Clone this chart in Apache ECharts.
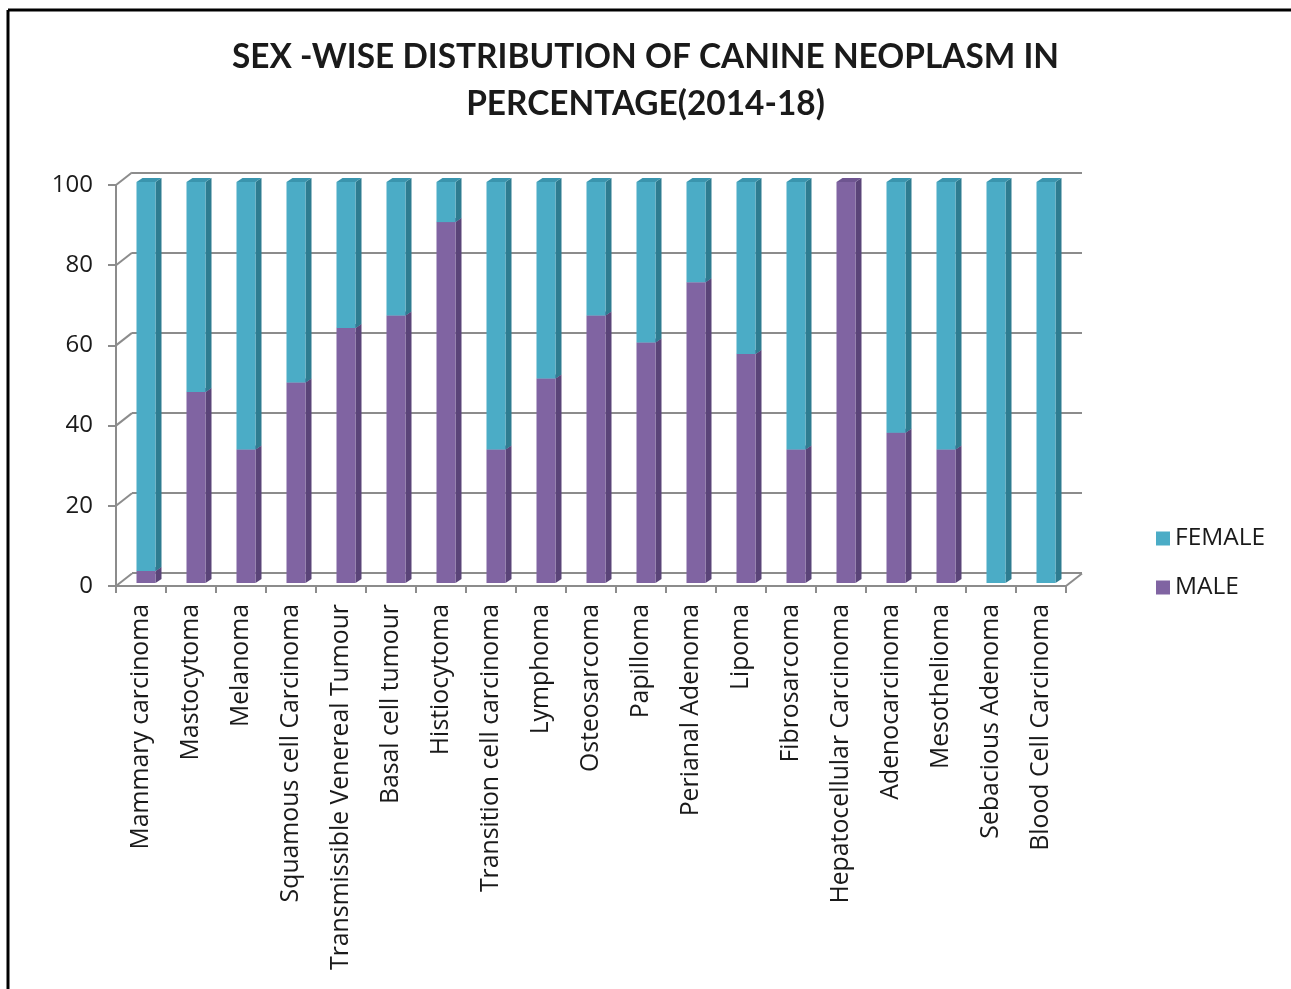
<!DOCTYPE html>
<html>
<head>
<meta charset="utf-8">
<script src="https://cdn.jsdelivr.net/npm/echarts@6/dist/echarts.min.js"></script>
<style>
html,body{margin:0;padding:0;background:#fff;}
#chart{width:1291px;height:989px;}
</style>
</head>
<body>
<div id="chart"></div>
<script>
var categories = ['Mammary carcinoma','Mastocytoma','Melanoma','Squamous cell Carcinoma','Transmissible Venereal Tumour','Basal cell tumour','Histiocytoma','Transition cell carcinoma','Lymphoma','Osteosarcoma','Papilloma','Perianal Adenoma','Lipoma','Fibrosarcoma','Hepatocellular Carcinoma','Adenocarcinoma','Mesothelioma','Sebacious Adenoma','Blood Cell Carcinoma'];
var maleValues   = [3, 47.6, 33.3, 50, 63.6, 66.7, 90, 33.3, 51, 66.7, 60, 75, 57.1, 33.3, 100, 37.5, 33.3, 0, 0];
var femaleValues = [97, 52.4, 66.7, 50, 36.4, 33.3, 10, 66.7, 49, 33.3, 40, 25, 42.9, 66.7, 0, 62.5, 66.7, 100, 100];
var yTicks = [0, 20, 40, 60, 80, 100];

var FONT = '"Open Sans", Lato, sans-serif';
var TFONT = 'Lato, "Open Sans", sans-serif';
var DEPTH_X = 16, DEPTH_Y = 12.5;
var BAR_W = 19, BAR_DX = 5, BAR_DY = 3, SIDE_X = 6, SIDE_Y = 4;

function makeBarRenderer(front, side, top) {
  return function (params, api) {
    var idx = api.value(0), start = api.value(1), end = api.value(2);
    if (end - start <= 0) return null;
    var p0 = api.coord([idx, start]);
    var p1 = api.coord([idx, end]);
    var cx = p0[0] + BAR_DX;
    var yb = p0[1] - BAR_DY, yt = p1[1] - BAR_DY;
    var xl = cx - BAR_W / 2, xr = cx + BAR_W / 2;
    return {
      type: 'group',
      children: [
        {type: 'polygon', shape: {points: [[xr, yb], [xr + SIDE_X, yb - SIDE_Y], [xr + SIDE_X, yt - SIDE_Y], [xr, yt]]}, style: {fill: side}},
        {type: 'polygon', shape: {points: [[xl, yt], [xl + SIDE_X, yt - SIDE_Y], [xr + SIDE_X, yt - SIDE_Y], [xr, yt]]}, style: {fill: top}},
        {type: 'rect', shape: {x: xl, y: yt, width: BAR_W, height: yb - yt}, style: {fill: front}}
      ]
    };
  };
}

var maleData = categories.map(function (c, i) { return [i, 0, maleValues[i]]; });
var femaleData = categories.map(function (c, i) { return [i, maleValues[i], maleValues[i] + femaleValues[i]]; });

var chart = echarts.init(document.getElementById('chart'), null, {renderer: 'canvas'});
chart.setOption({
  backgroundColor: '#fff',
  animation: false,
  title: {
    text: 'SEX -WISE DISTRIBUTION OF CANINE NEOPLASM IN\nPERCENTAGE(2014-18)',
    left: 'center',
    top: 29,
    textStyle: {fontFamily: TFONT, fontWeight: 'bold', fontSize: 33.4, lineHeight: 47, color: '#1a1a1a'}
  },
  legend: {
    data: ['FEMALE', 'MALE'],
    orient: 'vertical',
    left: 1151,
    top: 521,
    itemWidth: 14,
    itemHeight: 14,
    itemGap: 24,
    icon: 'rect',
    textStyle: {fontFamily: FONT, fontSize: 24.5, color: '#1a1a1a'}
  },
  grid: [
    {left: 116, top: 185, width: 950, height: 401},
    {left: 132, top: 173, width: 950, height: 400}
  ],
  xAxis: [
    {
      type: 'category', gridIndex: 0, data: categories, boundaryGap: true,
      axisLine: {lineStyle: {color: '#8c8c8c', width: 2}},
      axisTick: {show: true, length: 7, lineStyle: {color: '#8c8c8c', width: 2}},
      axisLabel: {rotate: 90, interval: 0, fontFamily: FONT, fontSize: 24.8, color: '#1a1a1a', margin: 18}
    },
    {
      type: 'category', gridIndex: 1, data: categories, boundaryGap: true,
      axisLine: {show: false}, axisTick: {show: false}, axisLabel: {show: false}
    }
  ],
  yAxis: [
    {
      type: 'value', gridIndex: 0, min: 0, max: 100, interval: 20,
      axisLine: {show: true, lineStyle: {color: '#8c8c8c', width: 2}},
      axisTick: {show: true, length: 8, lineStyle: {color: '#8c8c8c', width: 2}},
      axisLabel: {fontFamily: FONT, fontSize: 24, color: '#1a1a1a', margin: 23},
      splitLine: {show: false}
    },
    {
      type: 'value', gridIndex: 1, min: 0, max: 100, interval: 20,
      axisLine: {show: false}, axisTick: {show: false}, axisLabel: {show: false},
      splitLine: {show: true, lineStyle: {color: '#8c8c8c', width: 2}}
    }
  ],
  series: [
    {
      name: 'connectors', type: 'custom', xAxisIndex: 0, yAxisIndex: 0, silent: true, z: 1,
      data: yTicks.map(function (v) { return [0, v]; }),
      renderItem: function (params, api) {
        var v = api.value(1);
        var y = api.coord([0, v])[1];
        var x0 = params.coordSys.x;
        var kids = [{type: 'line', shape: {x1: x0, y1: y, x2: x0 + DEPTH_X, y2: y - DEPTH_Y}, style: {stroke: '#8c8c8c', lineWidth: 2}}];
        if (v === 0) {
          var x1 = params.coordSys.x + params.coordSys.width;
          kids.push({type: 'line', shape: {x1: x1, y1: y, x2: x1 + DEPTH_X, y2: y - DEPTH_Y}, style: {stroke: '#8c8c8c', lineWidth: 2}});
        }
        return {type: 'group', children: kids};
      }
    },
    {
      name: 'MALE', type: 'custom', xAxisIndex: 0, yAxisIndex: 0, z: 3,
      itemStyle: {color: '#8064A2'},
      data: maleData,
      renderItem: makeBarRenderer('#8064A2', '#5A4478', '#6E5590')
    },
    {
      name: 'FEMALE', type: 'custom', xAxisIndex: 0, yAxisIndex: 0, z: 4,
      itemStyle: {color: '#4BACC6'},
      data: femaleData,
      renderItem: makeBarRenderer('#4BACC6', '#2E7C90', '#3A95AE')
    }
  ],
  graphic: [
    {type: 'line', shape: {x1: 8, y1: 10, x2: 1291, y2: 10}, style: {stroke: '#000', lineWidth: 3}},
    {type: 'line', shape: {x1: 8, y1: 10, x2: 8, y2: 989}, style: {stroke: '#000', lineWidth: 3}}
  ]
});
</script>
</body>
</html>
